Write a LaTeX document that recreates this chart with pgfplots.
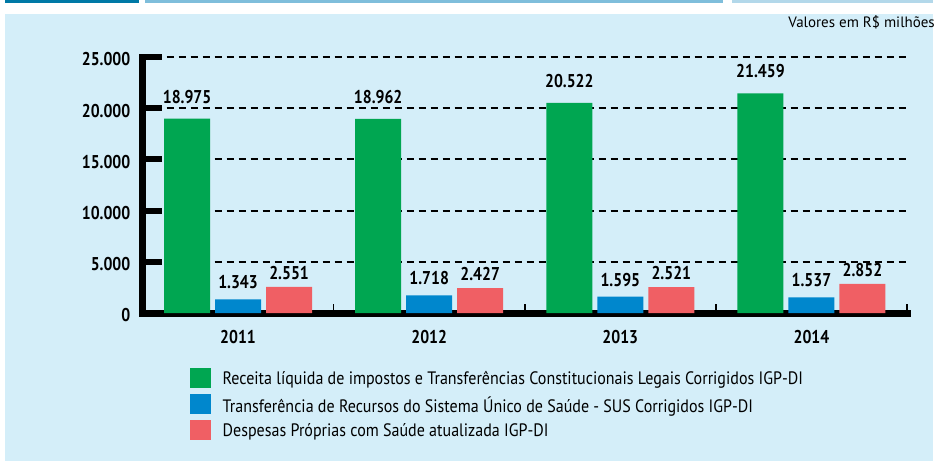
\documentclass[border=0pt]{standalone}
\usepackage{pgfplots}
\pgfplotsset{compat=1.18}
\usepackage{fontspec}
\setmainfont{PT Sans}
\newfontfamily\cond[FakeStretch=0.85]{PT Sans}
\newfontfamily\condleg[FakeStretch=0.89]{PT Sans}
\newfontfamily\condtop[FakeStretch=1.0]{PT Sans}
\definecolor{cgreen}{HTML}{00A651}
\definecolor{cblue}{HTML}{0087CD}
\definecolor{cred}{HTML}{F05F64}
\definecolor{bg}{HTML}{D4EEF9}
\definecolor{topdark}{HTML}{0079A6}
\definecolor{topmid}{HTML}{7FBEDB}
\definecolor{toplight}{HTML}{B3D8EA}
\begin{document}
\begin{tikzpicture}
\path[use as bounding box, fill=white] (0,0) rectangle (939pt,461pt);
\fill[bg] (5pt,0pt) rectangle (933pt,447pt);
\fill[topdark] (5pt,458pt) rectangle (139pt,461pt);
\fill[topmid] (145pt,458pt) rectangle (723pt,461pt);
\fill[toplight] (732pt,458pt) rectangle (933pt,461pt);
\node[anchor=base east, inner sep=0pt, font=\condtop\fontsize{15}{15}\selectfont] at (935pt,433pt) {Valores em R\$ milhões};
\begin{axis}[
  at={(142.5pt,148pt)}, anchor=south west,
  scale only axis, width=764.5pt, height=256pt,
  clip=false, axis on top=false,
  xmin=-0.5, xmax=3.5, ymin=0, ymax=25000,
  scaled y ticks=false,
  axis x line=bottom, axis y line=left,
  axis line style={-, line width=7pt, black, line cap=rect},
  ybar=5pt, bar width=46pt,
  ytick={0,5000,10000,15000,20000,25000},
  yticklabels={0,5.000,10.000,15.000,20.000,25.000},
  xtick={0,1,2,3}, xticklabels={2011,2012,2013,2014},
  tick align=inside,
  ytick style={line width=6pt, black},
  xtick style={draw=none},
  major tick length=19pt,
  extra x ticks={0.5,1.5,2.5,3.5}, extra x tick labels={},
  extra x tick style={xtick style={draw=black, line width=1.5pt}, major tick length=9pt, grid=none},
  ymajorgrids, grid style={black, line width=2pt, dash pattern=on 7pt off 5pt},
  yticklabel style={inner sep=0pt, anchor=east, xshift=-12pt, yshift=-2.5pt, font=\cond\bfseries\fontsize{18.5}{18.5}\selectfont},
  xticklabel style={inner sep=0pt, anchor=north, yshift=-17pt, font=\cond\bfseries\fontsize{18.5}{18.5}\selectfont},
  point meta=explicit symbolic,
  nodes near coords,
  nodes near coords style={inner sep=0pt, anchor=south, font=\cond\bfseries\fontsize{18.5}{18.5}\selectfont, black},
  legend image code/.code={\fill[#1] (0pt,-10pt) rectangle (21pt,10pt);},
  legend style={at={(axis description cs:0.0615,-0.215)}, anchor=north west, draw=none, fill=none,
     inner sep=0pt, row sep=6pt, font=\condleg\fontsize{18}{18}\selectfont,
     nodes={inner sep=0pt, anchor=west, text depth=0pt}},
  legend cell align=left,
]
\addplot[fill=cgreen, draw=none, nodes near coords style={yshift=15pt}] coordinates {(0,18975) [18.975] (1,18962) [18.962] (2,20522) [20.522] (3,21459) [21.459]};
\addplot[fill=cblue, draw=none, nodes near coords style={yshift=10pt}] coordinates {(0,1343) [1.343] (1,1718) [1.718] (2,1595) [1.595] (3,1537) [1.537]};
\addplot[fill=cred, draw=none, nodes near coords style={yshift=7pt}] coordinates {(0,2551) [2.551] (1,2427) [2.427] (2,2521) [2.521] (3,2852) [2.852]};
\legend{\hspace{12pt}Receita líquida de impostos e Transferências Constitucionais Legais Corrigidos IGP-DI,
\hspace{12pt}Transferência de Recursos do Sistema Único de Saúde - SUS Corrigidos IGP-DI,
\hspace{12pt}Despesas Próprias com Saúde atualizada IGP-DI}
\end{axis}
\end{tikzpicture}
\end{document}
